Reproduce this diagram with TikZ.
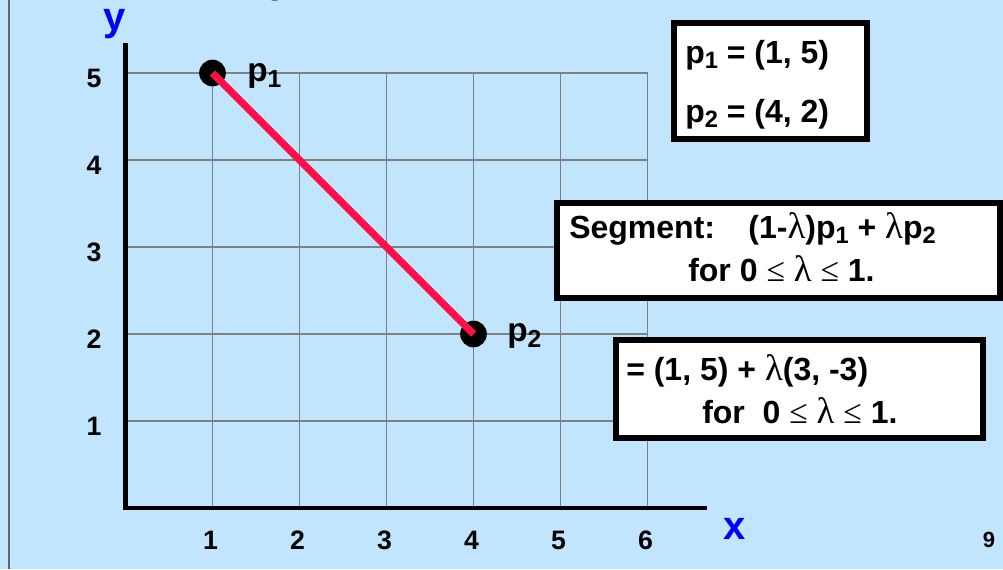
\documentclass[tikz,border=0pt]{standalone}
\usepackage{fontspec}
\usepackage{graphicx}
\setmainfont{Liberation Sans}
\newfontfamily\symfnt{Liberation Serif}
\definecolor{bgblue}{RGB}{192,229,253}
\definecolor{gridgray}{RGB}{128,128,128}
\definecolor{segred}{RGB}{255,16,72}
\definecolor{framegray}{RGB}{100,100,100}
\newcommand\lam{{\symfnt\mdseries\scalebox{1.15}{λ}}}
\newcommand\leqsym{{\symfnt\mdseries\scalebox{1.05}{≤}}}
\newcommand\sbs[1]{\raisebox{-0.18em}{\scalebox{0.74}{#1}}}
\begin{document}
\begin{tikzpicture}[x=0.75pt,y=-0.75pt,
  tick/.style={font=\fontsize{20}{24}\selectfont\bfseries, anchor=base, inner sep=0pt},
  boxtxt/.style={font=\fontsize{24}{29}\selectfont\bfseries, anchor=base west, inner sep=0pt},
  ptlbl/.style={font=\fontsize{25}{30}\selectfont\bfseries, anchor=base west, inner sep=0pt},
  infobox/.style={draw=black, line width=4.5pt, fill=white, anchor=north west, inner sep=0pt},
  ptdot/.style={circle, fill=black, minimum size=20pt, inner sep=0pt},
  axislbl/.style={font=\fontsize{30}{36}\selectfont\bfseries, text=blue, anchor=base, inner sep=0pt},
  gridln/.style={gridgray, line width=0.9pt},
  axisln/.style={black, line width=3.4pt}]
\fill[bgblue] (0,0) rectangle (1003,569);
\useasboundingbox (0,0) rectangle (1003,569);
% cropped title fragment
\begin{scope}
\clip (0,0) rectangle (1003,569);
\node[font=\fontsize{30}{36}\selectfont\bfseries, anchor=base, inner sep=0pt] (ttl) at (276,-8) {g};
\end{scope}
% slide frame edge
\coordinate (ftop) at (9,0);
\coordinate (fbot) at (9,569);
\draw[framegray, line width=1.3pt] (ftop) -- (fbot);
% grid
\foreach \i in {1,...,6} {
  \coordinate (gx\i t) at ({125.5+87*\i},73);
  \coordinate (gx\i b) at ({125.5+87*\i},508);
  \draw[gridln] (gx\i t) -- (gx\i b);
}
\foreach \j in {1,...,5} {
  \coordinate (gy\j l) at (125.5,{508-87*\j});
  \coordinate (gy\j r) at (647.5,{508-87*\j});
  \draw[gridln] (gy\j l) -- (gy\j r);
}
% axes
\coordinate (ytop) at (125.5,43);
\coordinate (ybot) at (125.5,510);
\coordinate (xleft) at (123,508);
\coordinate (xright) at (707,508);
\draw[axisln] (ytop) -- (ybot);
\draw[axisln] (xleft) -- (xright);
% tick labels
\foreach \i in {1,...,6} {
  \node[tick] (xt\i) at ({123.5+87*\i},549.5) {\i};
}
\foreach \j in {1,...,5} {
  \node[tick] (yt\j) at (94,{522-87*\j}) {\j};
}
\node[axislbl] (xlbl) at (735,539) {x};
\node[axislbl] (ylbl) at (115,30) {y};
\node[font=\fontsize{16.5}{20}\selectfont\bfseries, anchor=base, inner sep=0pt] (pg) at (989,547) {9};
% points and segment
\node[ptdot] (p1) at (212.5,73) {};
\node[ptdot] (p2) at (473.5,334) {};
\draw[segred, line width=5.4pt] (p1.center) -- (p2.center);
\node[ptlbl] (p1lbl) at (247,81) {p\sbs{1}};
\node[ptlbl] (p2lbl) at (507,341) {p\sbs{2}};
% boxes
\node[infobox, minimum width=144.75pt, minimum height=87.4pt] (boxA) at (671,19.5) {};
\node[boxtxt] (a1) at (685,63) {p\sbs{1} = (1, 5)};
\node[boxtxt] (a2) at (685,122) {p\sbs{2} = (4, 2)};
\node[infobox, minimum width=332.25pt, minimum height=71.25pt] (boxB) at (554,200) {};
\node[boxtxt] (b1) at (569,238) {Segment:\hspace{25pt}(1-\lam)p\sbs{1} + \lam p\sbs{2}};
\node[boxtxt] (b2) at (688,281) {for 0 \leqsym{} \lam{} \leqsym{} 1.};
\node[infobox, minimum width=275.25pt, minimum height=73.5pt] (boxC) at (613,337) {};
\node[boxtxt] (c1) at (626,380) {= (1, 5) + \lam(3, -3)};
\node[boxtxt] (c2) at (702,423) {for\ \ 0 \leqsym{} \lam{} \leqsym{} 1.};
\end{tikzpicture}
\end{document}
